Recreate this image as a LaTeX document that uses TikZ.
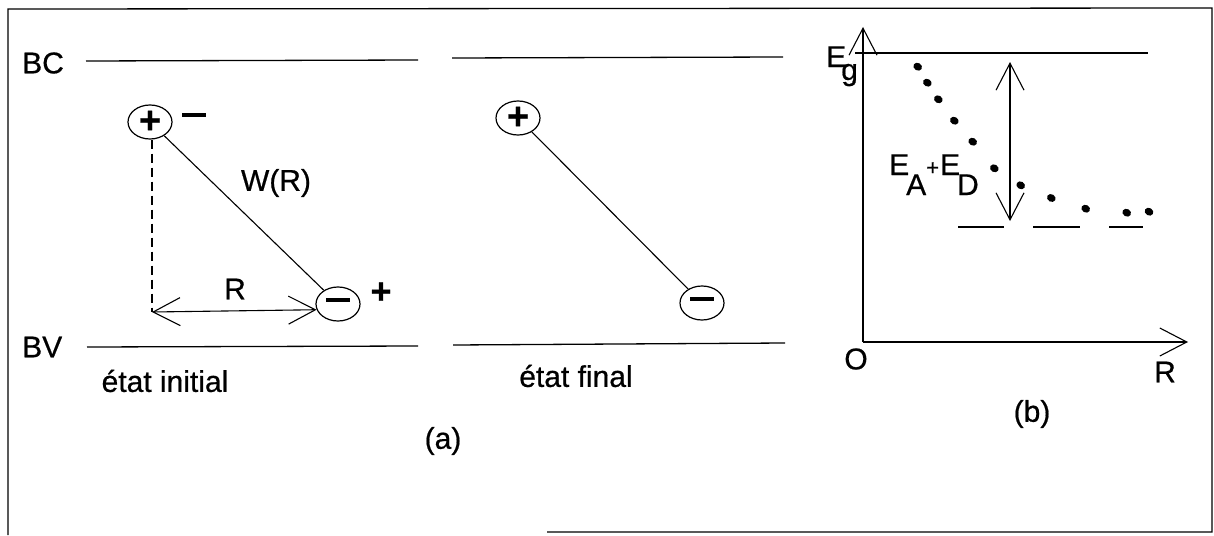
\documentclass[tikz,border=0pt]{standalone}
\usepackage{fontspec}
\setmainfont{Liberation Sans}[FakeBold=0.6]
\usetikzlibrary{shapes.geometric,arrows.meta}
\tikzset{
  lbl/.style={font=\fontsize{30}{30}\selectfont, inner sep=0pt},
  band/.style={line width=1.3pt},
  thin/.style={line width=1.1pt},
  charge/.style={ellipse, draw, line width=1.2pt, minimum width=44pt, minimum height=34pt, inner sep=0pt, font=\fontsize{38}{38}\selectfont\bfseries},
  barb/.style={-{Straight Barb[length=27pt,width=28pt,line width=1.1pt]}},
  dbarb/.style={{Straight Barb[length=27pt,width=28pt,line width=1.1pt]}-{Straight Barb[length=27pt,width=28pt,line width=1.1pt]}},
  dot/.style={ellipse, fill, inner sep=0pt, minimum width=9pt, minimum height=7.5pt, rotate=-30}
}
\begin{document}
\begin{tikzpicture}[x=1pt,y=-1pt]
\useasboundingbox (0,0) rectangle (1214,535);
% frame
\coordinate (f1) at (8,535);
\coordinate (f2) at (8,9);
\coordinate (f3) at (1212,8);
\coordinate (f4) at (1212,532);
\coordinate (f5) at (547,532);
\draw[band] (f1) -- (f2) -- (f3) -- (f4) -- (f5);

% ---------- panel (a) initial ----------
\node[lbl, anchor=west] (bc) at (22,63) {BC};
\node[lbl, anchor=west] (bv) at (22,347) {BV};
\coordinate (bc1a) at (86,61);  \coordinate (bc1b) at (418,60);
\coordinate (bv1a) at (87,347); \coordinate (bv1b) at (418,346);
\draw[band] (bc1a) -- (bc1b);
\draw[band] (bv1a) -- (bv1b);

\node[charge] (p1) at (150,122) {+};
\node[lbl] (pm) at (194,115) {\rule{24pt}{3.6pt}};
\node[charge] (m1) at (338,304) {\rule[0.2em]{24pt}{4pt}};
\node[lbl, font=\fontsize{36}{36}\selectfont\bfseries] (mp) at (381,293) {+};
\draw[thin] (p1) -- (m1);
\coordinate (rA) at (152,312);
\draw[thin, dashed, dash pattern=on 9pt off 5pt] (p1.south -| rA) -- (rA);
\draw[thin, dbarb] (rA) -- (m1.195);
\node[lbl] (rl) at (235,289) {R};
\node[lbl] (wr) at (276,183) {W(R)};
\node[lbl] (ei) at (165,381) {état initial};

% ---------- panel (a) final ----------
\coordinate (bc2a) at (452,58);  \coordinate (bc2b) at (783,57);
\coordinate (bv2a) at (453,345); \coordinate (bv2b) at (785,343);
\draw[band] (bc2a) -- (bc2b);
\draw[band] (bv2a) -- (bv2b);
\node[charge] (p2) at (518,118) {+};
\node[charge] (m2) at (702,303) {\rule[0.2em]{24pt}{4pt}};
\draw[thin] (p2) -- (m2);
\node[lbl] (ef) at (576,376) {état final};
\node[lbl] (a) at (443,441) {(a)};

% ---------- panel (b) ----------
\coordinate (O) at (863,342);
\coordinate (ytip) at (863,27);
\coordinate (xtip) at (1188,342);
\draw[thin, barb] (O) -- (ytip);
\draw[thin, barb] (O) -- (xtip);
\coordinate (eg1) at (855,53); \coordinate (eg2) at (1148,53);
\draw[band] (eg1) -- (eg2);
\node[lbl, anchor=base west] (Eg) at (826,67) {E\kern-5pt\raisebox{-13pt}{g}};
\node[lbl] (Ol) at (856,359) {O};
\node[lbl] (Rl) at (1165,372) {R};
\node[lbl] (b) at (1032,414) {(b)};

\coordinate (ea) at (1010,62); \coordinate (eb) at (1010,221);
\draw[thin, dbarb] (ea) -- (eb);
\node[lbl, anchor=base west] (EAD) at (889,175) {E\kern-3pt\raisebox{-20pt}{A}\kern0pt{\fontsize{22}{22}\selectfont+}\kern1pt E\kern-3pt\raisebox{-20pt}{D}};

\coordinate (d1a) at (958,227); \coordinate (d1b) at (1004,227);
\coordinate (d2a) at (1033,227); \coordinate (d2b) at (1080,227);
\coordinate (d3a) at (1109,227); \coordinate (d3b) at (1143,227);
\draw[band] (d1a) -- (d1b);
\draw[band] (d2a) -- (d2b);
\draw[band] (d3a) -- (d3b);

\foreach \x/\y [count=\i] in {917.7/66.7, 927.3/82.7, 938.3/99.3, 954.3/120.7, 972.7/141.7, 994.3/168.3, 1020.7/185.3, 1051.3/198, 1085.7/208.7, 1126.7/212.7, 1149/211.7}
  \node[dot] (dt\i) at (\x,\y) {};
\end{tikzpicture}
\end{document}
